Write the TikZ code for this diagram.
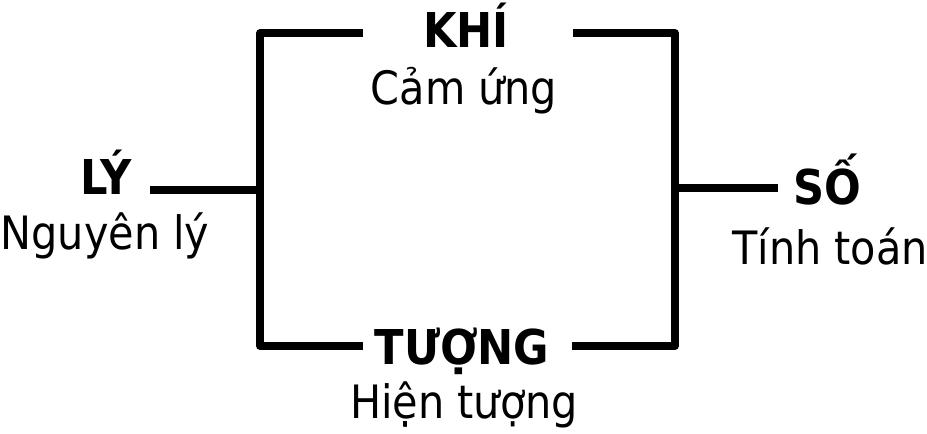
\documentclass[tikz,border=0pt]{standalone}
\usepackage{fontspec}
\setmainfont{DejaVu Sans Condensed}

\begin{document}
\begin{tikzpicture}[x=1pt, y=1pt,
    head/.style={font=\fontsize{48}{56}\selectfont\bfseries, anchor=base, inner sep=0pt},
    sub/.style={font=\fontsize{46}{54}\selectfont, anchor=base, inner sep=0pt},
    link/.style={line width=7.5pt, line join=round}]
    \useasboundingbox (0,0) rectangle (927,434);

    % Labels
    \node[head] (khi) at (466,386) {KHÍ};
    \node[sub] (khisub) at ([xshift=-2pt, yshift=-57pt]khi.base) {Cảm ứng};
    \node[head] (ly) at (106,239) {LÝ};
    \node[sub] (lysub) at ([xshift=-1pt, yshift=-55pt]ly.base) {Nguyên lý};
    \node[head] (tuong) at (462,69) {TƯỢNG};
    \node[sub] (tuongsub) at ([xshift=2pt, yshift=-53pt]tuong.base) {Hiện tượng};
    \node[head] (so) at (827,229) {SỐ};
    \node[sub] (sosub) at ([xshift=3pt, yshift=-60pt]so.base) {Tính toán};

    % Bracket ends and junctions
    \coordinate (khil) at (363,401);
    \coordinate (khir) at (573,401);
    \coordinate (tuongl) at (363,88);
    \coordinate (tuongr) at (572,88);
    \coordinate (jl) at (260,244);
    \coordinate (jr) at (675,246);

    % Brackets
    \draw[link] (khil) -- ++(-103,0) |- (tuongl);
    \draw[link] (khir) -- ++(102,0) |- (tuongr);

    % Stubs
    \draw[link, shorten >=18pt] (jl) -- (jl -| ly.east);
    \draw[link, shorten >=15pt] (jr) -- (jr -| so.west);
\end{tikzpicture}
\end{document}
